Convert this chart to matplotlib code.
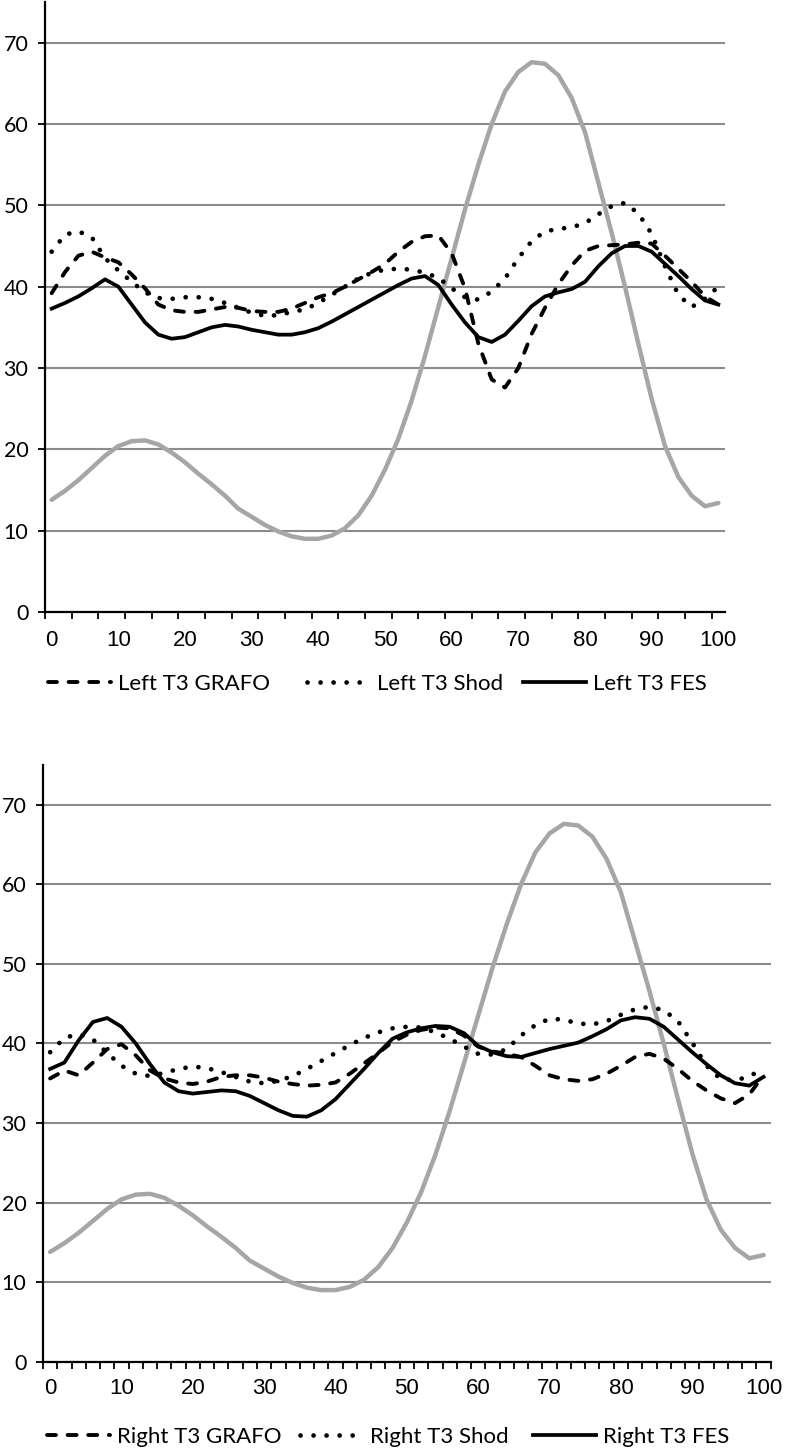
"""
Knee flexion over the gait cycle, left and right side, three conditions
"""
import numpy as np
import matplotlib
matplotlib.use("Agg")
from matplotlib import pyplot as plt

gait_pct = list(range(0, 101, 2))
x_labels = ["0", "10", "20", "30", "40", "50", "60", "70", "80", "90", "100"]

normal = [13.8, 14.9, 16.2, 17.7, 19.2, 20.4, 21.0, 21.1, 20.6, 19.6,
          18.4, 17.0, 15.7, 14.3, 12.7, 11.7, 10.7, 9.9, 9.3, 9.0,
          9.0, 9.4, 10.3, 11.9, 14.3, 17.5, 21.3, 26.0, 31.5, 37.5,
          43.5, 49.5, 55.0, 60.0, 64.0, 66.4, 67.6, 67.4, 66.0, 63.2,
          59.0, 52.8, 46.6, 40.0, 33.0, 26.2, 20.4, 16.6, 14.3, 13.0, 13.4]

left_grafo = [39.2, 41.8, 43.8, 44.3, 43.6, 43.0, 41.5, 39.8, 37.8, 37.1,
              36.9, 36.9, 37.2, 37.5, 37.4, 37.0, 36.9, 36.9, 37.3, 38.0,
              38.7, 39.2, 40.0, 40.9, 41.8, 42.8, 44.3, 45.5, 46.2, 46.3,
              44.1, 39.8, 33.0, 28.6, 27.6, 30.0, 34.2, 37.4, 40.3, 42.6,
              44.4, 45.0, 45.1, 45.2, 45.4, 45.3, 43.8, 42.2, 40.6, 38.8, 37.8]
left_shod = [44.3, 46.4, 46.8, 46.1, 43.5, 42.0, 40.6, 39.3, 38.6, 38.5,
             38.7, 38.7, 38.5, 38.0, 37.4, 36.8, 36.4, 36.5, 36.9, 37.2,
             38.0, 39.0, 40.0, 41.0, 41.7, 42.1, 42.2, 42.1, 41.7, 41.1,
             39.8, 38.7, 38.4, 39.4, 41.0, 43.5, 45.6, 46.8, 47.1, 47.3,
             47.8, 48.9, 49.9, 50.3, 49.0, 46.5, 42.5, 39.0, 37.5, 38.5, 40.0]
left_fes = [37.3, 38.0, 38.8, 39.8, 40.9, 40.0, 37.8, 35.6, 34.1, 33.6,
            33.8, 34.4, 35.0, 35.3, 35.1, 34.7, 34.4, 34.1, 34.1, 34.4,
            34.9, 35.7, 36.6, 37.5, 38.4, 39.3, 40.2, 41.0, 41.3, 40.2,
            37.8, 35.6, 33.8, 33.2, 34.1, 35.8, 37.6, 38.8, 39.3, 39.7,
            40.6, 42.5, 44.1, 45.0, 45.0, 44.3, 42.8, 41.3, 39.7, 38.3, 37.8]

right_grafo = [35.6, 36.6, 36.0, 37.6, 39.3, 39.9, 38.5, 36.6, 35.6, 35.1,
               34.9, 35.2, 35.8, 36.0, 36.0, 35.7, 35.2, 34.9, 34.7, 34.8,
               35.1, 36.2, 37.5, 38.8, 40.2, 41.1, 41.7, 42.0, 41.9, 41.0,
               39.6, 39.0, 38.7, 38.3, 37.2, 36.0, 35.5, 35.3, 35.5, 36.2,
               37.2, 38.3, 38.7, 38.1, 36.8, 35.3, 34.1, 33.1, 32.5, 33.6, 36.0]
right_shod = [38.9, 40.7, 41.2, 40.5, 38.8, 37.2, 36.2, 35.9, 36.3, 36.8,
              37.1, 36.9, 36.4, 35.8, 35.2, 35.0, 35.3, 35.9, 36.8, 37.8,
              38.8, 39.8, 40.7, 41.4, 41.9, 42.1, 42.0, 41.4, 40.6, 39.6,
              38.7, 38.6, 39.3, 41.0, 42.3, 43.1, 43.0, 42.5, 42.4, 42.8,
              43.6, 44.3, 44.6, 44.2, 42.8, 40.1, 37.2, 35.5, 35.4, 35.8, 37.0]
right_fes = [36.8, 37.6, 40.4, 42.7, 43.2, 42.1, 40.0, 37.4, 35.1, 34.0,
             33.7, 33.9, 34.1, 34.0, 33.4, 32.5, 31.6, 30.9, 30.8, 31.6,
             33.0, 34.9, 36.8, 38.8, 40.6, 41.4, 41.9, 42.2, 42.1, 41.3,
             39.7, 38.9, 38.4, 38.3, 38.8, 39.3, 39.7, 40.1, 40.9, 41.8,
             42.9, 43.3, 43.1, 42.1, 40.5, 38.9, 37.4, 36.0, 35.0, 34.7, 35.8]

GRAY = "#a6a6a6"
GRID = "#8c8c8c"
TEXT_FONT = ["Lato", "DejaVu Sans"]
XTICK_FONT = ["Liberation Sans", "DejaVu Sans"]

W, H = 786, 1450


def draw_panel(fig, ax, grafo, shod, fes, labels, every_tick, xpad,
               legend_x, legend_y):
    n = len(gait_pct)
    pos = np.arange(n) + 0.5

    ax.plot(pos, normal, color=GRAY, lw=3.2, solid_capstyle="round",
            solid_joinstyle="round", zorder=3)
    l1, = ax.plot(pos, grafo, color="black", lw=2.8, linestyle=(0, (2.3, 3.0)),
                  dash_capstyle="round", zorder=4)
    l2, = ax.plot(pos, shod, color="black", lw=3.4, linestyle=(0, (0.01, 2.75)),
                  dash_capstyle="round", zorder=4)
    l3, = ax.plot(pos, fes, color="black", lw=2.7, solid_joinstyle="round",
                  zorder=5)

    ax.set_xlim(0, n)
    ax.set_ylim(0, 75)
    ax.set_yticks(range(0, 71, 10))
    ax.yaxis.grid(True, color=GRID, lw=1.5)
    ax.set_axisbelow(True)

    # category labels every fifth point, tick marks on the category borders
    ax.set_xticks(pos[::5])
    ax.set_xticklabels(x_labels, family=XTICK_FONT, fontsize=16)
    ax.tick_params(axis="x", which="major", length=0, pad=xpad)
    step = 1 if every_tick else 2
    ax.set_xticks(np.arange(0, n + (1 if every_tick else 0), step), minor=True)
    ax.tick_params(axis="x", which="minor", length=5, width=1.3, direction="out")
    ax.tick_params(axis="y", length=5, width=1.3, direction="out", pad=7)
    for lab in ax.get_yticklabels():
        lab.set_family(TEXT_FONT)
        lab.set_fontsize(15.5)

    for side in ("top", "right"):
        ax.spines[side].set_visible(False)
    for side in ("left", "bottom"):
        ax.spines[side].set_linewidth(1.6)

    for handle, label, x0 in zip([l1, l2, l3], labels, legend_x):
        fig.legend(handles=[handle], labels=[label], loc="center left",
                   bbox_to_anchor=(x0 / W, 1 - legend_y / H),
                   frameon=False, borderpad=0, borderaxespad=0,
                   prop={"family": TEXT_FONT, "size": 16},
                   handlelength=2.85, handletextpad=0.3)


fig = plt.figure(figsize=(W / 100, H / 100), dpi=100)
ax_top = fig.add_axes([45 / W, 1 - 612 / H, 680 / W, 610 / H])
ax_bot = fig.add_axes([43 / W, 1 - 1361.7 / H, 727.7 / W, 596.7 / H])

draw_panel(fig, ax_top, left_grafo, left_shod, left_fes,
           ["Left T3 GRAFO", "Left T3 Shod", "Left T3 FES"],
           every_tick=False, xpad=13, legend_x=[48, 307, 523], legend_y=684)
draw_panel(fig, ax_bot, right_grafo, right_shod, right_fes,
           ["Right T3 GRAFO", "Right T3 Shod", "Right T3 FES"],
           every_tick=True, xpad=12, legend_x=[47, 300, 533], legend_y=1437)

plt.savefig("out.png", dpi=100)
